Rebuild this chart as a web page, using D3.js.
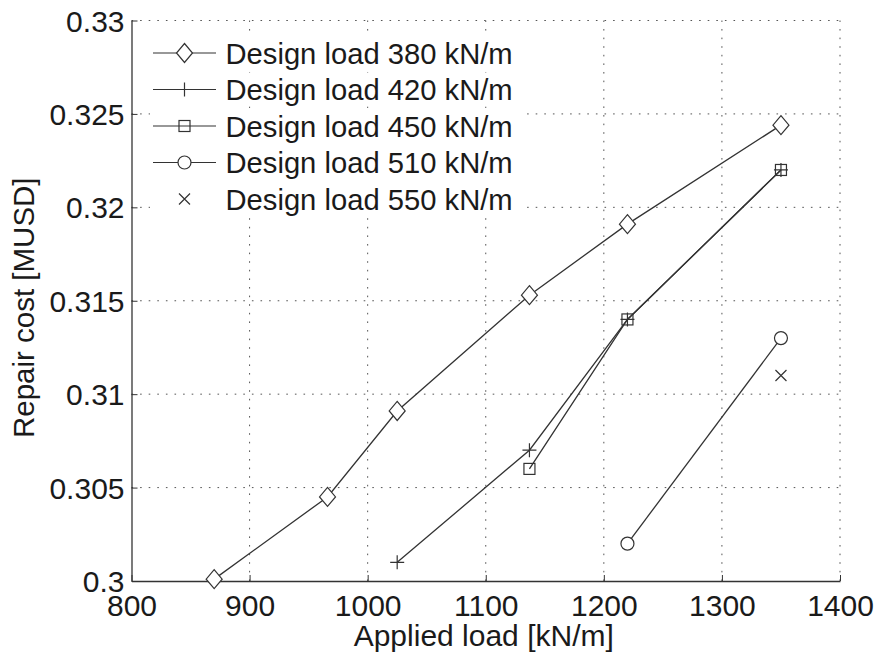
<!DOCTYPE html>
<html><head><meta charset="utf-8">
<script src="https://cdn.jsdelivr.net/npm/d3@7"></script>
<style>body{margin:0;background:#fff}svg{display:block}text{font-family:"Liberation Sans",Arial,Helvetica,sans-serif;fill:#1a1a1a}</style>
</head><body><svg id="c" width="874" height="653"></svg>
<script>
const xTicks = [800, 900, 1000, 1100, 1200, 1300, 1400];
const yTicks = [0.3, 0.305, 0.31, 0.315, 0.32, 0.325, 0.33];
const yTickLabels = ["0.3", "0.305", "0.31", "0.315", "0.32", "0.325", "0.33"];
const seriesNames = ["Design load 380 kN/m", "Design load 420 kN/m", "Design load 450 kN/m", "Design load 510 kN/m", "Design load 550 kN/m"];
const markers = ["diamond", "plus", "square", "circle", "cross"];
const hasLine = [true, true, true, true, false];
const x380 = [870, 966, 1025, 1137, 1220, 1350];
const y380 = [0.3001, 0.3045, 0.3091, 0.3153, 0.3191, 0.3244];
const x420 = [1025, 1137, 1220, 1350];
const y420 = [0.301, 0.307, 0.314, 0.322];
const x450 = [1137, 1220, 1350];
const y450 = [0.306, 0.314, 0.322];
const x510 = [1220, 1350];
const y510 = [0.302, 0.313];
const x550 = [1350];
const y550 = [0.311];
const xAll = [x380, x420, x450, x510, x550];
const yAll = [y380, y420, y450, y510, y550];

const svg = d3.select("#c");
const L = 131.5, R = 840, T = 20.5, B = 581;
const x = d3.scaleLinear().domain([800, 1400]).range([L, R]);
const y = d3.scaleLinear().domain([0.3, 0.33]).range([B, T]);
const ink = "#333";

// grid
const g = svg.append("g");
g.selectAll(".gx").data(xTicks.slice(1)).enter().append("line")
  .attr("x1", d => x(d)).attr("x2", d => x(d)).attr("y1", B).attr("y2", T)
  .attr("stroke", "#555").attr("stroke-width", 1).attr("stroke-dasharray", "1.6,7");
g.selectAll(".gy").data(yTicks.slice(1)).enter().append("line")
  .attr("y1", d => y(d)).attr("y2", d => y(d)).attr("x1", L).attr("x2", R)
  .attr("stroke", "#555").attr("stroke-width", 1).attr("stroke-dasharray", "1.6,7");

// axes
const xa = svg.append("g").attr("transform", `translate(0,${B})`)
  .call(d3.axisBottom(x).tickValues(xTicks).tickSizeInner(-6).tickSizeOuter(0).tickPadding(14).tickFormat(d3.format("d")));
const ya = svg.append("g").attr("transform", `translate(${L},0)`)
  .call(d3.axisLeft(y).tickValues(yTicks).tickSizeInner(-6).tickSizeOuter(0).tickPadding(14).tickFormat((d, i) => yTickLabels[i]));
[xa, ya].forEach(a => {
  a.select(".domain").attr("stroke", ink).attr("stroke-width", 1.3);
  a.selectAll(".tick line").attr("stroke", ink);
  a.selectAll("text").attr("font-size", 30).attr("fill", "#1a1a1a").attr("font-family", "Liberation Sans, Arial, sans-serif");
});
xa.selectAll("text").attr("dy", "0").attr("y", 35);
ya.selectAll("text").attr("x", -7).attr("dy", "0.35em");

// labels
svg.append("text").attr("x", (L + R) / 2 - 2).attr("y", 646).attr("text-anchor", "middle")
  .attr("font-size", 30).text("Applied load [kN/m]");
svg.append("text").attr("transform", `translate(34,${(T + B) / 2 + 7}) rotate(-90)`).attr("text-anchor", "middle")
  .attr("font-size", 29.5).text("Repair cost [MUSD]");

function drawMarker(sel, type, cx, cy) {
  const s = sel.append("g").attr("transform", `translate(${cx},${cy})`)
    .attr("fill", "none").attr("stroke", ink).attr("stroke-width", 1.2);
  if (type === "diamond") s.append("path").attr("d", "M0,-9.5L8,0L0,9.5L-8,0Z").attr("fill", "#fff");
  else if (type === "plus") s.append("path").attr("d", "M-7,0H7M0,-7V7");
  else if (type === "square") s.append("rect").attr("x", -5.5).attr("y", -5.5).attr("width", 11).attr("height", 11);
  else if (type === "circle") s.append("circle").attr("r", 6.5).attr("fill", "#fff");
  else if (type === "cross") s.append("path").attr("d", "M-5.5,-5.5L5.5,5.5M-5.5,5.5L5.5,-5.5");
  return s;
}

// series
const line = d3.line();
xAll.forEach((xs, si) => {
  const pts = xs.map((v, i) => [x(v), y(yAll[si][i])]);
  if (hasLine[si]) svg.append("path").attr("d", line(pts)).attr("fill", "none").attr("stroke", ink).attr("stroke-width", 1.3);
  pts.forEach(p => drawMarker(svg, markers[si], p[0], p[1]));
});

// legend
const lg = svg.append("g");
seriesNames.forEach((name, i) => {
  const cy = 53 + i * 36.5;
  const row = lg.append("g");
  row.append("rect").attr("x", 150).attr("y", cy - 17).attr("width", 372).attr("height", 34).attr("fill", "#fff");
  if (hasLine[i]) row.append("line").attr("x1", 153).attr("x2", 216).attr("y1", cy).attr("y2", cy).attr("stroke", ink).attr("stroke-width", 1.2);
  drawMarker(row, markers[i], 184.5, cy);
  row.append("text").attr("x", 225.5).attr("y", cy).attr("dy", "0.36em").attr("font-size", 29.2).text(name);
});
</script></body></html>
